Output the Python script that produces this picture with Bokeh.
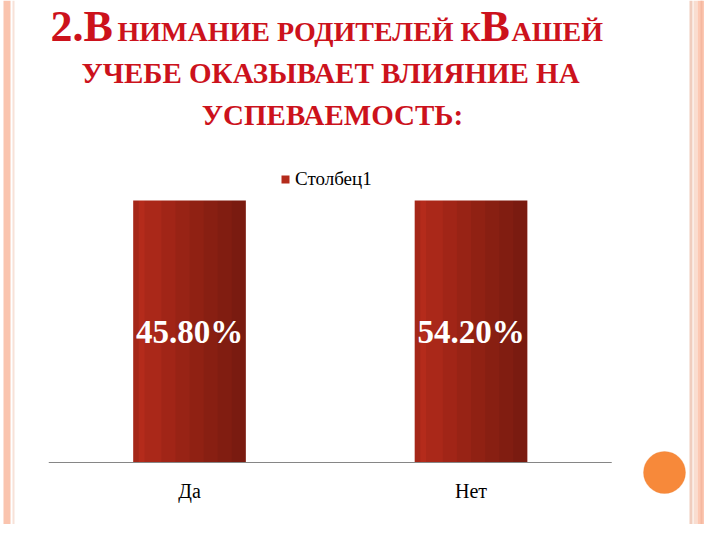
from bokeh.plotting import figure
from bokeh.models import (Range1d, LabelSet, ColumnDataSource,
                          BoxAnnotation, Legend, LegendItem)
from bokeh.embed import file_html
from bokeh.resources import INLINE

# ---- data ----
categories = ["Да", "Нет"]
values = [45.8, 54.2]
value_labels = ["45.80%", "54.20%"]
series_name = "Столбец1"
y_max = 45.0

title_big = ["2.В", "В"]
title_small = ["НИМАНИЕ РОДИТЕЛЕЙ К", "АШЕЙ"]
title_rest = ["УЧЕБЕ ОКАЗЫВАЕТ ВЛИЯНИЕ НА", "УСПЕВАЕМОСТЬ:"]

title_red = "#CC121C"
SERIF = "Liberation Serif"

W, H = 704, 524
# pixel anchors of the chart area inside the figure
CAT0_PX, CAT_STEP_PX = 189.0, 281.5
BASE_PX, TOP_PX = 462.0, 200.0

k = (BASE_PX - TOP_PX) / y_max
x_start = -CAT0_PX / CAT_STEP_PX
x_end = x_start + W / CAT_STEP_PX
y_end = y_max + TOP_PX / k
y_start = -(H - BASE_PX) / k

p = figure(width=W, height=H, x_range=Range1d(x_start, x_end), y_range=Range1d(y_start, y_end),
           output_backend="svg", toolbar_location=None, min_border=0,
           x_axis_type=None, y_axis_type=None)
p.outline_line_color = None
p.grid.visible = False
p.background_fill_color = "white"
p.border_fill_color = "white"

def sx(px):
    return px

def sy(py):
    return H - py

idx = list(range(len(categories)))
src = ColumnDataSource(dict(i=idx, cat=categories, val=values, lab=value_labels,
                            ly=[y_max / 2] * len(categories)))

bw = 0.4
base = p.vbar(x="i", top="val", width=bw, source=src, fill_color="#B42B1B", line_color=None)
# shading overlays (darken towards the right edge)
for w in [0.36, 0.30, 0.25, 0.20, 0.15, 0.10, 0.05]:
    p.vbar(x=[i + bw / 2 - w / 2 for i in idx], top=values, width=w,
           fill_color="black", fill_alpha=0.05, line_color=None)
p.vbar(x=[i - bw / 2 + 0.01 for i in idx], top=values, width=0.02,
       fill_color="black", fill_alpha=0.08, line_color=None)

# category axis line
p.segment(x0=[-0.5], y0=[0], x1=[len(categories) - 0.5], y1=[0],
          line_color="#868686", line_width=1)

p.add_layout(LabelSet(x="i", y="ly", text="lab", source=src, text_align="center",
                      text_baseline="middle", text_color="white", text_font=SERIF,
                      text_font_style="bold", text_font_size="33px"))

# mask above the value axis maximum (bars exceed the axis max and are cut off)
p.add_layout(BoxAnnotation(bottom=y_max, fill_color="white", fill_alpha=1, line_color=None))

p.add_layout(LabelSet(x="i", y=sy(490), y_units="screen", text="cat", source=src,
                      text_align="center", text_baseline="middle", text_color="black",
                      text_font=SERIF, text_font_size="20px"))

legend = Legend(items=[LegendItem(label=series_name, renderers=[base])],
                location=(sx(280), sy(190)), orientation="horizontal",
                padding=0, margin=0, spacing=0, label_standoff=5,
                glyph_width=10, glyph_height=10, label_height=18,
                label_text_font=SERIF, label_text_font_size="19px",
                label_text_color="black", border_line_color=None,
                background_fill_alpha=0)
p.add_layout(legend, "center")

# ---- title (small caps emulation) ----
def title_set(texts, xs, ys, size, align):
    s = ColumnDataSource(dict(t=texts, x=[sx(v) for v in xs], y=[sy(v) for v in ys]))
    p.add_layout(LabelSet(x="x", y="y", x_units="screen", y_units="screen", text="t", source=s,
                          text_font=SERIF, text_font_style="bold", text_font_size=f"{size}px",
                          text_color=title_red, text_align=align, text_baseline="alphabetic"))

title_set(title_big, [50, 480], [40, 40], 44, "left")
title_set(title_small, [117, 511], [40, 40], 28, "left")
title_set(title_rest, [330, 332], [82, 124], 29, "center")

# ---- slide decoration ----
def box(l, r, t, b, color, radius=0, line=None):
    p.add_layout(BoxAnnotation(left=sx(l), right=sx(r), top=sy(t), bottom=sy(b),
                               left_units="screen", right_units="screen",
                               top_units="screen", bottom_units="screen",
                               fill_color=color, fill_alpha=1, line_color=line,
                               border_radius=radius))

box(3, 10, 0, H, "#FAC4AE")
box(12, 14, 0, H, "#F8E2D8")
box(689, 692, 0, H, "#F0CDBE")
box(693, 697, 0, H, "#F9DDD0")
box(697, W, 0, H, "#FCC8B3")
box(700, 702, 0, H, "#F5B8A0")
box(643, 685, 451, 493, "#F7893A", radius=21, line="#EC8234")

open("out.html", "w").write(file_html(p, INLINE))
